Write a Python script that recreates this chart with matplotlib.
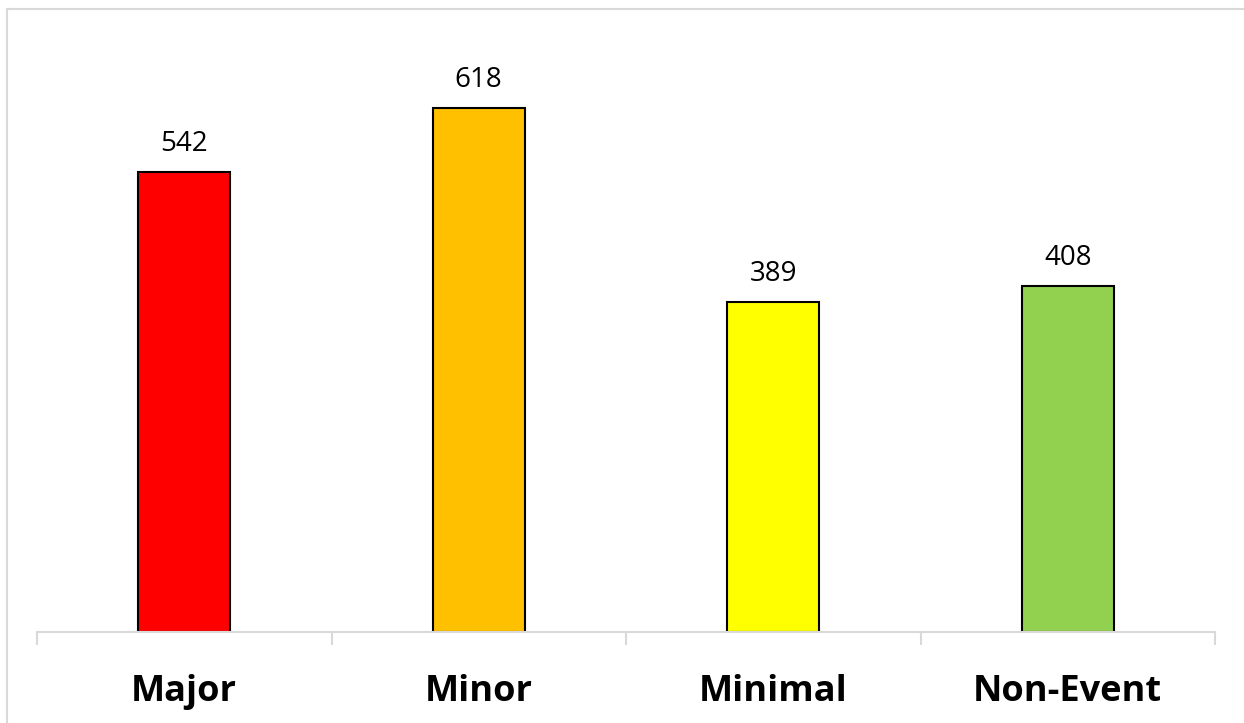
import matplotlib
matplotlib.use("Agg")
import matplotlib.pyplot as plt
from matplotlib.lines import Line2D

categories = ["Major", "Minor", "Minimal", "Non-Event"]
counts = [542, 618, 389, 408]
bar_colors = ["#FF0000", "#FFC000", "#FFFF00", "#92D050"]

W, H = 1244, 723
fig = plt.figure(figsize=(W / 100, H / 100), dpi=100)
fig.patch.set_facecolor("white")

# plot area in pixel terms
left, right, bottom, top = 37, 1215, 632, 38
ax = fig.add_axes([left / W, 1 - bottom / H, (right - left) / W, (bottom - top) / H])

x = range(len(categories))
bars = ax.bar(x, counts, width=0.3125, color=bar_colors, edgecolor="black",
              linewidth=1.5, zorder=2)
ax.set_xlim(-0.5, len(categories) - 0.5)
ax.set_ylim(0, 700)

for rect, v in zip(bars, counts):
    ax.annotate(f"{v}", (rect.get_x() + rect.get_width() / 2, v),
                xytext=(0, 10), textcoords="offset points",
                ha="center", va="bottom", fontsize=20, family="Open Sans",
                color="#000000")

for s in ["top", "right", "left"]:
    ax.spines[s].set_visible(False)
ax.spines["bottom"].set_color("#D9D9D9")
ax.spines["bottom"].set_linewidth(1.5)
ax.spines["bottom"].set_zorder(3)
ax.set_yticks([])

# category boundary ticks
ax.set_xticks([i - 0.5 for i in range(len(categories) + 1)])
ax.set_xticklabels([])
ax.tick_params(axis="x", length=9, width=1.5, color="#D9D9D9")
ax.set_xticks(list(x), minor=True)
ax.set_xticklabels(categories, minor=True, fontsize=26, fontweight="bold",
                   family="Open Sans")
ax.tick_params(axis="x", which="minor", length=0, pad=30)

# outer frame
fig.add_artist(Line2D([7 / W, 7 / W], [0, 1 - 9 / H], color="#D9D9D9", lw=1.5))
fig.add_artist(Line2D([7 / W, 1], [1 - 9 / H, 1 - 9 / H], color="#D9D9D9", lw=1.5))

fig.savefig("out.png", dpi=100, facecolor="white")
